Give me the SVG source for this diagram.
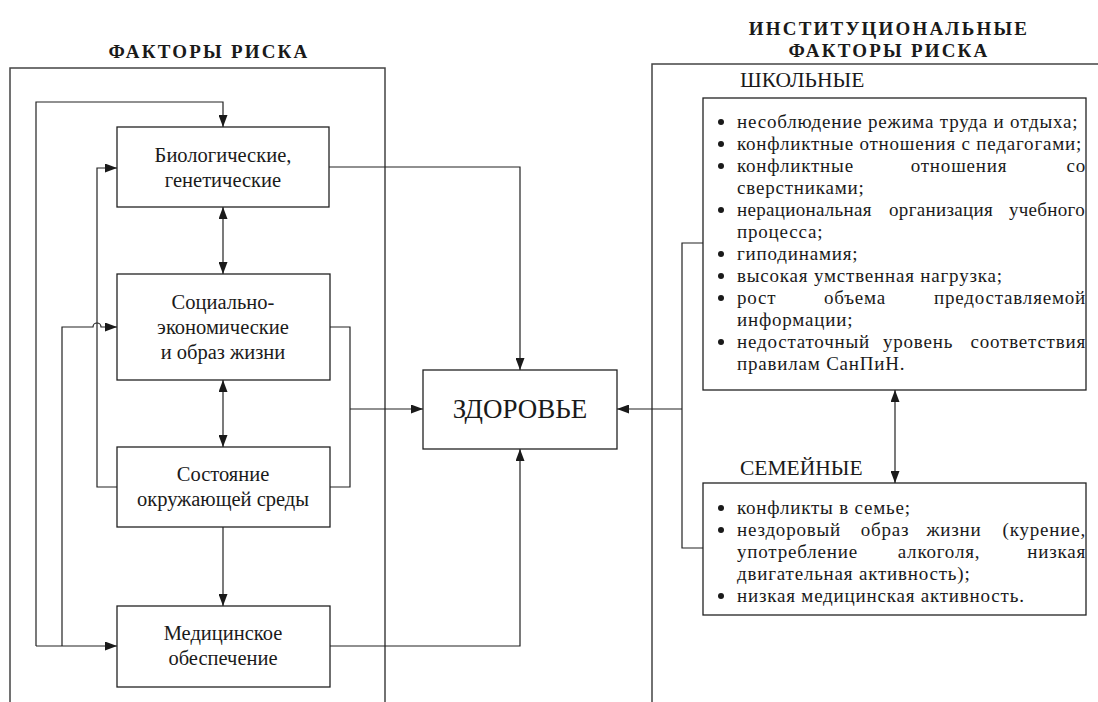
<svg xmlns="http://www.w3.org/2000/svg" width="1098" height="702" viewBox="0 0 1098 702" font-family="Liberation Serif, DejaVu Serif, serif">
<style>
.t{font-family:'Liberation Serif','Times New Roman',serif;fill:#1a1a1a}
.title{font-size:19px;font-weight:bold;text-anchor:middle;letter-spacing:2.2px}
.box{fill:#fff;stroke:#222;stroke-width:1.3}
.frame{fill:none;stroke:#444;stroke-width:1.5}
.lbl{font-size:20.5px;text-anchor:middle}
.big{font-size:27px;text-anchor:middle}
.sec{font-size:21.5px}
.li{font-size:19px;letter-spacing:0.8px}
.tight{letter-spacing:0.3px}
.m{text-anchor:middle}
.e{text-anchor:end}
.conn path{fill:none;stroke:#222;stroke-width:1.2}
.bul{fill:#1a1a1a}
</style>
<defs>
<marker id="arr" viewBox="0 0 12 9" refX="12" refY="4.5" markerWidth="12" markerHeight="9" markerUnits="userSpaceOnUse" orient="auto-start-reverse">
<path d="M0,0 L12,4.5 L0,9 z" fill="#1a1a1a"/>
</marker>
</defs>

<g id="frames">
<path class="frame" d="M10,702 V68 H385 V702"/>
<path class="frame" d="M652,702 V64 H1098"/>
<text class="t title" x="209" y="58">ФАКТОРЫ РИСКА</text>
<text class="t title" x="889" y="35">ИНСТИТУЦИОНАЛЬНЫЕ</text>
<text class="t title" x="889" y="57">ФАКТОРЫ РИСКА</text>
</g>

<g class="conn" id="connectors">
<path d="M329,167 H520 V370" marker-end="url(#arr)"/>
<path d="M330,646 H520 V449" marker-end="url(#arr)"/>
<path d="M36,646 V102 H223 V127" marker-end="url(#arr)"/>
<path d="M36,646 H117" marker-end="url(#arr)"/>
<path d="M62,646 V327 H93 A4,4 0 0 1 101,327 H117" marker-end="url(#arr)"/>
<path d="M117,487 H97 V168 H117" marker-end="url(#arr)"/>
<path d="M330,327 H350 V487 H330"/>
<path d="M350,409 H423" marker-end="url(#arr)"/>
<path d="M223,207 V274" marker-start="url(#arr)" marker-end="url(#arr)"/>
<path d="M223,380 V447" marker-start="url(#arr)" marker-end="url(#arr)"/>
<path d="M223,527 V606" marker-end="url(#arr)"/>
<path d="M703,243 H682 V548 H703"/>
<path d="M682,409 H617" marker-end="url(#arr)"/>
<path d="M895,390 V483" marker-start="url(#arr)" marker-end="url(#arr)"/>
</g>

<g id="bio">
<rect class="box" x="117" y="127" width="212" height="80"/>
<text class="t lbl" x="223" y="162">Биологические,</text>
<text class="t lbl" x="223" y="187">генетические</text>
</g>

<g id="social">
<rect class="box" x="117" y="274" width="213" height="106"/>
<text class="t lbl" x="223" y="309">Социально-</text>
<text class="t lbl" x="223" y="334">экономические</text>
<text class="t lbl" x="223" y="359">и образ жизни</text>
</g>

<g id="environment">
<rect class="box" x="117" y="447" width="213" height="80"/>
<text class="t lbl" x="223" y="481">Состояние</text>
<text class="t lbl" x="223" y="506">окружающей среды</text>
</g>

<g id="medical">
<rect class="box" x="117" y="606" width="213" height="81"/>
<text class="t lbl" x="223" y="640">Медицинское</text>
<text class="t lbl" x="223" y="665">обеспечение</text>
</g>

<g id="health">
<rect class="box" x="423" y="370" width="194" height="79"/>
<text class="t big" x="520" y="418">ЗДОРОВЬЕ</text>
</g>

<g id="school">
<text class="t sec" x="740" y="87">ШКОЛЬНЫЕ</text>
<rect class="box" x="703" y="98" width="383" height="292"/>
<circle class="bul" cx="721" cy="122" r="3"/>
<circle class="bul" cx="721" cy="144" r="3"/>
<circle class="bul" cx="721" cy="166" r="3"/>
<circle class="bul" cx="721" cy="210" r="3"/>
<circle class="bul" cx="721" cy="254" r="3"/>
<circle class="bul" cx="721" cy="276" r="3"/>
<circle class="bul" cx="721" cy="298" r="3"/>
<circle class="bul" cx="721" cy="342" r="3"/>
<text class="t li" x="737" y="128">несоблюдение режима труда и отдыха;</text>
<text class="t li" x="737" y="150">конфликтные отношения с педагогами;</text>
<text class="t li" y="172"><tspan x="737">конфликтные</tspan><tspan class="m" x="959">отношения</tspan><tspan class="e" x="1086">со</tspan></text>
<text class="t li" x="737" y="194">сверстниками;</text>
<text class="t li tight" y="216"><tspan x="737">нерациональная</tspan><tspan class="m" x="941">организация</tspan><tspan class="e" x="1085">учебного</tspan></text>
<text class="t li" x="737" y="238">процесса;</text>
<text class="t li" x="737" y="260">гиподинамия;</text>
<text class="t li" x="737" y="282">высокая умственная нагрузка;</text>
<text class="t li" y="304"><tspan x="737">рост</tspan><tspan class="m" x="855">объема</tspan><tspan class="e" x="1086">предоставляемой</tspan></text>
<text class="t li" x="737" y="326">информации;</text>
<text class="t li" y="348"><tspan x="737">недостаточный</tspan><tspan class="m" x="918">уровень</tspan><tspan class="e" x="1086">соответствия</tspan></text>
<text class="t li" x="737" y="370">правилам СанПиН.</text>
</g>

<g id="family">
<text class="t sec" x="740" y="475">СЕМЕЙНЫЕ</text>
<rect class="box" x="703" y="483" width="383" height="132"/>
<circle class="bul" cx="721" cy="508" r="3"/>
<circle class="bul" cx="721" cy="530" r="3"/>
<circle class="bul" cx="721" cy="596" r="3"/>
<text class="t li" x="737" y="514">конфликты в семье;</text>
<text class="t li" y="536"><tspan x="737">нездоровый</tspan><tspan class="m" x="885">образ</tspan><tspan class="m" x="954">жизни</tspan><tspan class="e" x="1086">(курение,</tspan></text>
<text class="t li" y="558"><tspan x="737">употребление</tspan><tspan class="m" x="939">алкоголя,</tspan><tspan class="e" x="1086">низкая</tspan></text>
<text class="t li" x="737" y="580">двигательная активность);</text>
<text class="t li" x="737" y="602">низкая медицинская активность.</text>
</g>
</svg>
